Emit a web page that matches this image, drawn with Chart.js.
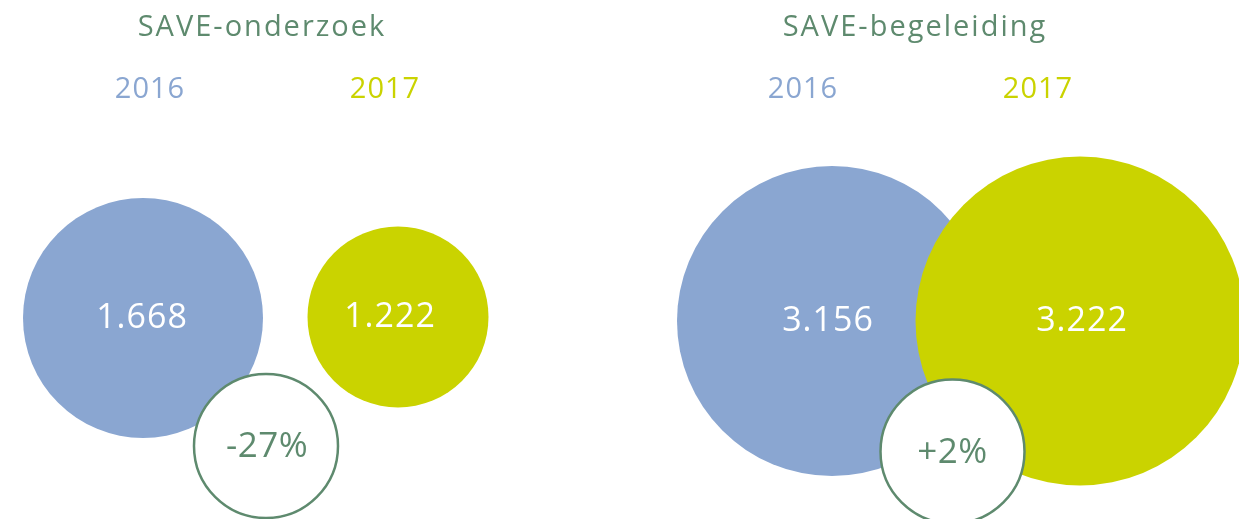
<!DOCTYPE html>
<html>
<head>
<meta charset="utf-8">
<script src="https://cdn.jsdelivr.net/npm/chart.js@4.4.1/dist/chart.umd.min.js"></script>
<style>
  html, body { margin: 0; padding: 0; background: #ffffff; }
  #wrap { position: relative; width: 1239px; height: 519px; overflow: hidden; }
  canvas { position: absolute; left: 0; top: 0; }
  .lbl { position: absolute; white-space: nowrap; font-family: "Open Sans", sans-serif; line-height: 1; transform: translate(-50%, -50%); }
  .title { color: #5E8A6E; font-size: 29px; letter-spacing: 2px; }
  .year { font-size: 29px; letter-spacing: 1px; }
  .val { color: #ffffff; font-size: 34px; letter-spacing: 1px; }
  .pct { color: #5E8A6E; font-size: 35px; letter-spacing: 0.5px; }
</style>
</head>
<body>
<div id="wrap">
  <canvas id="c" width="1239" height="519"></canvas>
</div>
<script>
// ---- data ----
const panels = ["SAVE-onderzoek", "SAVE-begeleiding"];
const years = ["2016", "2017"];
const values2016 = [1668, 3156];
const values2017 = [1222, 3222];
const changeLabels = ["-27%", "+2%"];

// ---- layout (positions in a 0..1239 x 0..519 layout space, radii in px) ----
const posX2016 = [143, 832];
const posX2017 = [398, 1080];
const posY2016 = [318, 321];
const posY2017 = [317, 321];
const rad2016 = [120, 155];
const rad2017 = [90.5, 164.5];
const posXChange = [266, 952.5];
const posYChange = [446, 451.5];
const radChange = [72, 72];
const labelDx2016 = [-1, -4];
const labelDx2017 = [-8, 2];
const labelDxChange = [1, 0];
const titleX = [262, 915];
const yearX2016 = [150, 803];
const yearX2017 = [385, 1038];

// ---- styles ----
const blue = "#8AA6D1";
const lime = "#CAD300";
const green = "#5E8A6E";

function fmt(v) { return v.toLocaleString("nl-NL"); }

const ds2016 = panels.map((p, i) => ({ x: posX2016[i], y: posY2016[i], r: rad2016[i], label: fmt(values2016[i]), dx: labelDx2016[i] }));
const ds2017 = panels.map((p, i) => ({ x: posX2017[i], y: posY2017[i], r: rad2017[i], label: fmt(values2017[i]), dx: labelDx2017[i] }));
const dsChange = panels.map((p, i) => ({ x: posXChange[i], y: posYChange[i], r: radChange[i], label: changeLabels[i], dx: labelDxChange[i] }));

const wrap = document.getElementById("wrap");
function addLabel(text, cls, x, y, color) {
  const d = document.createElement("div");
  d.className = "lbl " + cls;
  d.textContent = text;
  d.style.left = x + "px";
  d.style.top = y + "px";
  if (color) d.style.color = color;
  wrap.appendChild(d);
  return d;
}

const labelPlugin = {
  id: "htmlLabels",
  afterRender(chart) {
    if (chart.$labelsDone) return;
    chart.$labelsDone = true;
    const xs = chart.scales.x, ys = chart.scales.y;
    panels.forEach((p, i) => {
      addLabel(p, "title", xs.getPixelForValue(titleX[i]), ys.getPixelForValue(24));
      addLabel(years[0], "year", xs.getPixelForValue(yearX2016[i]), ys.getPixelForValue(86), blue);
      addLabel(years[1], "year", xs.getPixelForValue(yearX2017[i]), ys.getPixelForValue(86), lime);
    });
    chart.data.datasets.forEach((ds, di) => {
      const meta = chart.getDatasetMeta(di);
      meta.data.forEach((el, j) => {
        const cls = ds.kind === "change" ? "pct" : "val";
        addLabel(ds.data[j].label, cls, el.x + ds.data[j].dx, el.y - 3);
      });
    });
  }
};

new Chart(document.getElementById("c"), {
  type: "bubble",
  data: {
    datasets: [
      { kind: "change", label: "verschil", data: dsChange, backgroundColor: "#ffffff", borderColor: green, borderWidth: 2.5, order: 0, clip: false },
      { kind: "val", label: years[1], data: ds2017, backgroundColor: lime, borderWidth: 0, order: 1, clip: false },
      { kind: "val", label: years[0], data: ds2016, backgroundColor: blue, borderWidth: 0, order: 2, clip: false }
    ]
  },
  options: {
    responsive: false,
    animation: false,
    layout: { padding: 0, autoPadding: false },
    scales: {
      x: { type: "linear", min: 0, max: 1239, display: false },
      y: { type: "linear", min: 0, max: 519, reverse: true, display: false }
    },
    plugins: { legend: { display: false }, tooltip: { enabled: false } },
    elements: { point: { hoverRadius: 0 } }
  },
  plugins: [labelPlugin]
});
</script>
</body>
</html>
